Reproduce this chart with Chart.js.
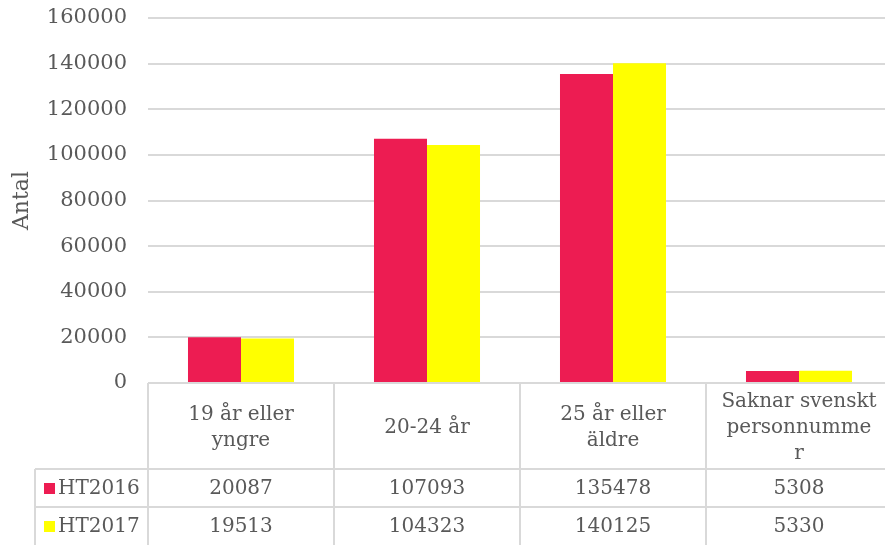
<!DOCTYPE html>
<html>
<head>
<meta charset="utf-8">
<script src="https://cdn.jsdelivr.net/npm/chart.js@4.4.1/dist/chart.umd.min.js"></script>
<style>
  html, body { margin: 0; padding: 0; background: #fff; overflow: hidden; }
  #wrap { width: 895px; height: 545px; position: relative; }
</style>
</head>
<body>
<div id="wrap"><canvas id="chart"></canvas></div>
<script>
// Age groups (header lines of the table under the plot)
const categories = [
    ['19 år eller', 'yngre'],
    ['20-24 år'],
    ['25 år eller', 'äldre'],
    ['Saknar svenskt', 'personnumme', 'r']
];
const seriesNames = ['HT2016', 'HT2017'];
const ht2016 = [20087, 107093, 135478, 5308];
const ht2017 = [19513, 104323, 140125, 5330];
const yTicks = [0, 20000, 40000, 60000, 80000, 100000, 120000, 140000, 160000];

const RED = '#ED1C52';
const YELLOW = '#FFFF00';
const TEXT = '#595959';
const LINE = '#D9D9D9';
const FONT = '"DejaVu Serif", serif';

// Data table drawn under the bars, aligned with the category slots
const dataTable = {
    id: 'dataTable',
    afterDraw(chart) {
        const ctx = chart.ctx;
        const x = chart.scales.x;
        const area = chart.chartArea;
        const H = chart.height;
        const step = (area.right - area.left) / categories.length;
        const headBottom = 469;
        const row2Top = 507;
        const legendLeft = 35;

        ctx.save();
        ctx.strokeStyle = LINE;
        ctx.lineWidth = 2;

        // vertical cell borders
        for (let i = 0; i <= categories.length; i++) {
            const bx = Math.round(area.left + i * step);
            ctx.beginPath();
            ctx.moveTo(bx, area.bottom);
            ctx.lineTo(bx, H);
            ctx.stroke();
        }
        ctx.beginPath();
        ctx.moveTo(legendLeft, headBottom);
        ctx.lineTo(legendLeft, H);
        ctx.stroke();

        // horizontal row borders
        [headBottom, row2Top].forEach(y => {
            ctx.beginPath();
            ctx.moveTo(legendLeft, y);
            ctx.lineTo(area.right + 10, y);
            ctx.stroke();
        });

        ctx.fillStyle = TEXT;
        ctx.font = '20px ' + FONT;
        ctx.textAlign = 'center';
        ctx.textBaseline = 'middle';

        // header labels
        const headMid = (area.bottom + headBottom) / 2 + 2;
        const lh = 26;
        categories.forEach((lines, i) => {
            const cx = x.getPixelForValue(i);
            const y0 = headMid - (lines.length - 1) * lh / 2;
            lines.forEach((t, j) => ctx.fillText(t, cx, y0 + j * lh));
        });

        // value rows
        const rows = [ht2016, ht2017];
        const colors = [RED, YELLOW];
        const rowMids = [(headBottom + row2Top) / 2 + 1, (row2Top + H) / 2 + 1];
        rows.forEach((vals, r) => {
            vals.forEach((v, i) => {
                ctx.fillText(String(v), x.getPixelForValue(i), rowMids[r]);
            });
            ctx.fillStyle = colors[r];
            ctx.fillRect(44, rowMids[r] - 6, 11, 11);
            ctx.fillStyle = TEXT;
            ctx.textAlign = 'left';
            ctx.fillText(seriesNames[r], 58, rowMids[r]);
            ctx.textAlign = 'center';
        });
        ctx.restore();
    }
};

new Chart(document.getElementById('chart'), {
    type: 'bar',
    data: {
        labels: categories.map(c => c.join(' ')),
        datasets: [
            { label: seriesNames[0], data: ht2016, backgroundColor: RED },
            { label: seriesNames[1], data: ht2017, backgroundColor: YELLOW }
        ]
    },
    options: {
        responsive: true,
        maintainAspectRatio: false,
        animation: false,
        layout: { padding: { top: 18, bottom: 162, left: 0, right: 3 } },
        datasets: { bar: { categoryPercentage: 0.57, barPercentage: 1 } },
        plugins: {
            legend: { display: false },
            tooltip: { enabled: false }
        },
        scales: {
            x: { display: false },
            y: {
                min: 0,
                max: 160000,
                afterBuildTicks: s => { s.ticks = yTicks.map(v => ({ value: v })); },
                afterFit: s => {
                    s.width = 148;
                    s.paddingTop = 0;
                    s.paddingBottom = 0;
                },
                border: { display: false },
                grid: { color: LINE, lineWidth: 2, drawTicks: false },
                ticks: {
                    color: TEXT,
                    padding: 21,
                    font: { family: FONT, size: 21 },
                    callback: v => String(v)
                },
                title: {
                    display: true,
                    text: 'Antal',
                    color: TEXT,
                    padding: { top: 9, bottom: 0 },
                    font: { family: FONT, size: 22 }
                }
            }
        }
    },
    plugins: [dataTable]
});
</script>
</body>
</html>
